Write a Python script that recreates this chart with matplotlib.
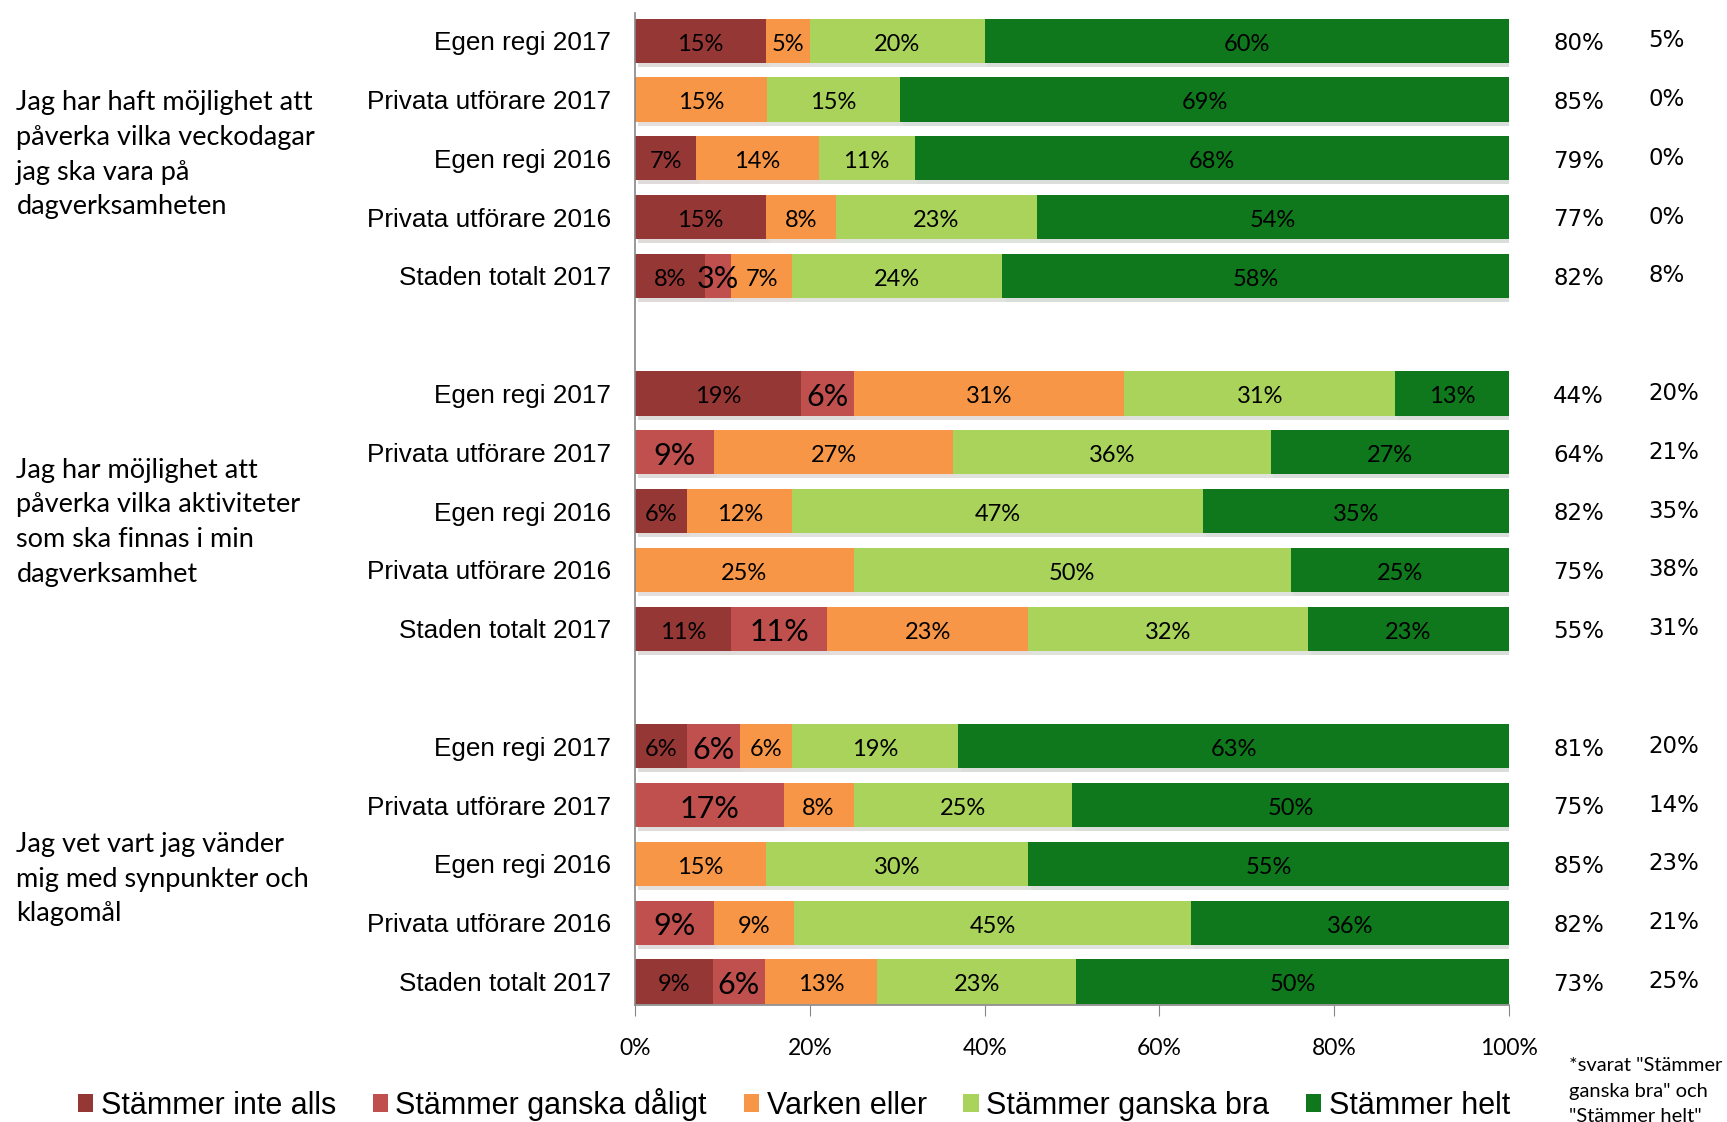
import numpy as np
import matplotlib
matplotlib.use("Agg")
from matplotlib import pyplot as plt
from matplotlib import font_manager
from matplotlib import patheffects as pe
from matplotlib import transforms as mtrans
from matplotlib.patches import Patch

# answer categories (legend order)
answers = ["Stämmer inte alls", "Stämmer ganska dåligt", "Varken eller",
           "Stämmer ganska bra", "Stämmer helt"]
colors = ["#953735", "#C0504D", "#F79646", "#A9D35A", "#0F771C"]

rows = ["Egen regi 2017", "Privata utförare 2017", "Egen regi 2016",
        "Privata utförare 2016", "Staden totalt 2017"]

questions = ["Jag har haft möjlighet att\npåverka vilka veckodagar\njag ska vara på\ndagverksamheten",
             "Jag har möjlighet att\npåverka vilka aktiviteter\nsom ska finnas i min\ndagverksamhet",
             "Jag vet vart jag vänder\nmig med synpunkter och\nklagomål"]

# percent per answer, one list per row (rows in the order above)
q1 = [[15, 0, 5, 20, 60],
      [0, 0, 15, 15, 69],
      [7, 0, 14, 11, 68],
      [15, 0, 8, 23, 54],
      [8, 3, 7, 24, 58]]
q2 = [[19, 6, 31, 31, 13],
      [0, 9, 27, 36, 27],
      [6, 0, 12, 47, 35],
      [0, 0, 25, 50, 25],
      [11, 11, 23, 32, 23]]
q3 = [[6, 6, 6, 19, 63],
      [0, 17, 8, 25, 50],
      [0, 0, 15, 30, 55],
      [0, 9, 9, 45, 36],
      [9, 6, 13, 23, 50]]

# right hand columns
positive = [80, 85, 79, 77, 82, 44, 64, 82, 75, 55, 81, 75, 85, 82, 73]
second_col = [5, 0, 0, 0, 8, 20, 21, 35, 38, 31, 20, 14, 23, 21, 25]

footnote = '*svarat "Stämmer\nganska bra" och\n"Stämmer helt"'

installed = {f.name for f in font_manager.fontManager.ttflist}
narrow = "Liberation Sans Narrow" if "Liberation Sans Narrow" in installed else "Lato"

data = np.array(q1 + q2 + q3, dtype=float)
shares = data / data.sum(axis=1, keepdims=True) * 100

ypos = []
for g in range(3):
    ypos += [g * 6 + i for i in range(5)]
ypos = np.array(ypos)

fig = plt.figure(figsize=(17.27, 11.22), dpi=100)
ax = fig.add_axes([0.3677, 0.1043, 0.5061, 0.8841])

left = np.zeros(len(ypos))
for k in range(5):
    bars = ax.barh(ypos, shares[:, k], left=left, height=0.75, color=colors[k],
                   edgecolor="none", zorder=2)
    for b in bars:
        b.set_path_effects([pe.SimplePatchShadow(offset=(2, -3), alpha=0.15),
                            pe.Normal()])
    labels = ["%d%%" % v if v > 0 else "" for v in data[:, k]]
    txts = ax.bar_label(bars, labels=labels, label_type="center",
                        fontsize=22 if k == 1 else 17, family=narrow,
                        color="black")
    # labels sit a touch below the bar centre in the original
    for t in txts:
        t.xyann = (0, -2.5)
    left += shares[:, k]

ax.set_xlim(0, 100)
ax.set_ylim(16.4, -0.47)
ax.set_xticks([0, 20, 40, 60, 80, 100])
ax.set_xticklabels(["0%", "20%", "40%", "60%", "80%", "100%"],
                   family=narrow, fontsize=16.5)
ax.set_yticks(ypos)
ax.set_yticklabels(rows * 3, family="Liberation Sans", fontsize=18.8)
ax.tick_params(axis="y", length=0, pad=17)
ax.tick_params(axis="x", length=8, color="#868686", direction="out", pad=16)
for s in ["top", "right"]:
    ax.spines[s].set_visible(False)
for s in ["left", "bottom"]:
    ax.spines[s].set_color("#868686")
    ax.spines[s].set_linewidth(1.2)

# question texts on the far left
trans_q = mtrans.blended_transform_factory(fig.transFigure, ax.transData)
for q, yc in zip(questions, [1.94, 8.19, 14.26]):
    ax.text(0.0095, yc, q, transform=trans_q, ha="left", va="center",
            family="Lato", fontsize=19.5, linespacing=1.48, clip_on=False)

# right hand value columns
for y, a, b in zip(ypos, positive, second_col):
    ax.text(0.8993, y + 0.05, "%d%%" % a, transform=trans_q, ha="left",
            va="center", family="DejaVu Sans", fontsize=16.5, clip_on=False)
    ax.text(0.9545, y, "%d%%" % b, transform=trans_q, ha="left",
            va="center", family="DejaVu Sans", fontsize=16.5, clip_on=False)

fig.text(0.9085, 0.0275, footnote, ha="left", va="center", family="Lato",
         fontsize=14.5, linespacing=1.6)

handles = [Patch(facecolor=c, edgecolor="none") for c in colors]
fig.legend(handles, answers, loc="center left", bbox_to_anchor=(0.045, 0.016),
           ncol=5, frameon=False, handlelength=0.5, handleheight=0.52,
           handletextpad=0.25, columnspacing=1.2, borderpad=0,
           borderaxespad=0, prop={"family": "Liberation Sans", "size": 22})

fig.savefig("out.png", dpi=100)
